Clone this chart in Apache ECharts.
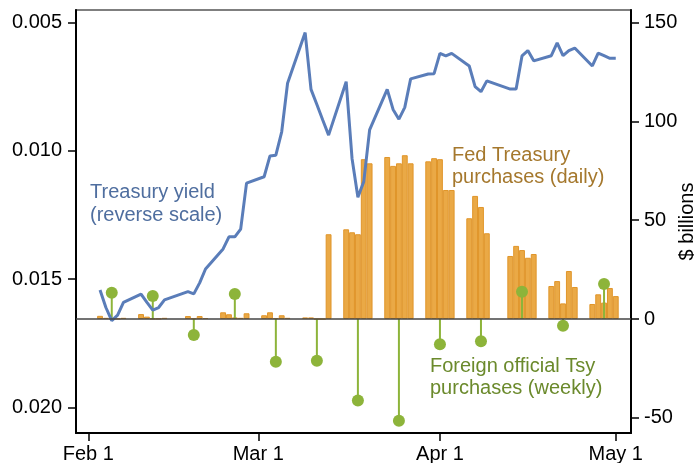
<!DOCTYPE html>
<html>
<head>
<meta charset="utf-8">
<script src="https://cdn.jsdelivr.net/npm/echarts@6/dist/echarts.min.js"></script>
<style>
html,body{margin:0;padding:0;background:#fff;}
#chart{width:694px;height:463px;}
</style>
</head>
<body>
<div id="chart"></div>
<script>
// ---- data ----
const tradingDays = [
  '2020-02-03','2020-02-04','2020-02-05','2020-02-06','2020-02-07',
  '2020-02-10','2020-02-11','2020-02-12','2020-02-13','2020-02-14',
  '2020-02-18','2020-02-19','2020-02-20','2020-02-21',
  '2020-02-24','2020-02-25','2020-02-26','2020-02-27','2020-02-28',
  '2020-03-02','2020-03-03','2020-03-04','2020-03-05','2020-03-06',
  '2020-03-09','2020-03-10','2020-03-11','2020-03-12','2020-03-13',
  '2020-03-16','2020-03-17','2020-03-18','2020-03-19','2020-03-20',
  '2020-03-23','2020-03-24','2020-03-25','2020-03-26','2020-03-27',
  '2020-03-30','2020-03-31','2020-04-01','2020-04-02','2020-04-03',
  '2020-04-06','2020-04-07','2020-04-08','2020-04-09',
  '2020-04-13','2020-04-14','2020-04-15','2020-04-16','2020-04-17',
  '2020-04-20','2020-04-21','2020-04-22','2020-04-23','2020-04-24',
  '2020-04-27','2020-04-28','2020-04-29','2020-04-30','2020-05-01'
];
const fedPurchases = [
  1.6, 0.6, 0.3, 0.2, 0.6,
  2.5, 1.2, 0.2, 0.2, 0.6,
  1.5, 0.3, 1.5, 0.5,
  3.4, 2.4, 0.8, 0.6, 2.9,
  1.9, 3.4, 0.5, 1.9, 0.6,
  0.8, 0.8, 0, 0, 42.9,
  45.4, 43.9, 42.9, 80.9, 78.8,
  82.0, 77.5, 78.8, 82.9, 78.8,
  79.8, 81.4, 80.9, 65.3, 65.3,
  51.0, 62.3, 56.7, 43.4,
  31.9, 37.0, 34.9, 31.0, 32.9,
  16.7, 19.2, 7.9, 24.3, 16.2,
  7.6, 12.5, 8.3, 15.7, 11.6
];
const treasuryYield = [
  0.01542, 0.0161, 0.01661, 0.0164, 0.0159,
  0.01558, 0.0159, 0.0162, 0.0161, 0.0158,
  0.01548, 0.01557, 0.01514, 0.0146,
  0.01382, 0.01335, 0.01335, 0.01305, 0.01126,
  0.01101, 0.0102, 0.01017, 0.00926, 0.00737,
  0.0054, 0.00761, 0.0082, 0.0088, 0.00939,
  0.00731, 0.0103, 0.01181, 0.0112, 0.00919,
  0.00761, 0.00839, 0.00877, 0.00831, 0.0072,
  0.00701, 0.0070, 0.00621, 0.00631, 0.00621,
  0.0067, 0.0075, 0.0077, 0.00728,
  0.0076, 0.0076, 0.00631, 0.0061, 0.0065,
  0.0063, 0.0058, 0.0063, 0.0061, 0.0060,
  0.0067, 0.0062, 0.0063, 0.0064, 0.0064
];
const weeklyDates = [
  '2020-02-05','2020-02-12','2020-02-19','2020-02-26',
  '2020-03-04','2020-03-11','2020-03-18','2020-03-25',
  '2020-04-01','2020-04-08','2020-04-15','2020-04-22','2020-04-29'
];
const foreignPurchases = [13.3, 11.6, -8.1, 12.7, -21.6, -21.1, -41.3, -51.5, -12.8, -11.3, 13.8, -3.4, 17.7];
const tickDates = ['2020-02-01','2020-03-01','2020-04-01','2020-05-01'];
const tickLabels = ['Feb 1','Mar 1','Apr 1','May 1'];
const yieldTicks = [0.005, 0.010, 0.015, 0.020];
const billionTicks = [-50, 0, 50, 100, 150];

// ---- helpers ----
const BASE = Date.UTC(2020, 1, 1);
function dayOffset(s) {
  const p = s.split('-').map(Number);
  return (Date.UTC(p[0], p[1] - 1, p[2]) - BASE) / 86400000;
}
const xTicks = tickDates.map(dayOffset);
const barData = tradingDays.map((d, i) => [dayOffset(d), fedPurchases[i]]);
const lineData = tradingDays.map((d, i) => [dayOffset(d), treasuryYield[i]]);
const stemData = weeklyDates.map((d, i) => [dayOffset(d), foreignPurchases[i]]);

const FONT = 'Liberation Sans, Arial, sans-serif';
const GREEN = '#8db43a';
const chart = echarts.init(document.getElementById('chart'), null, {renderer: 'canvas'});

const option = {
  backgroundColor: '#fff',
  animation: false,
  grid: {left: 76, right: 63, top: 10, bottom: 30, containLabel: false, outerBoundsMode: 'none',
    show: true, borderColor: '#555', borderWidth: 1.5, backgroundColor: '#fff'},
  xAxis: {
    type: 'value', min: -2.1, max: 92.6,
    splitLine: {show: false},
    axisLine: {onZero: false, lineStyle: {color: '#000', width: 2}},
    axisTick: {customValues: xTicks, length: 8, lineStyle: {color: '#000', width: 1.5}},
    axisLabel: {
      customValues: xTicks, margin: 11, fontSize: 20, fontFamily: FONT, color: '#000',
      formatter: v => tickLabels[xTicks.indexOf(Math.round(v))] || ''
    }
  },
  yAxis: [
    {
      type: 'value', inverse: true, min: 0.004521, max: 0.020984, position: 'left',
      splitLine: {show: false},
      axisLine: {show: true, onZero: false, lineStyle: {color: '#000', width: 2}},
      axisTick: {show: true, customValues: yieldTicks, length: 8, lineStyle: {color: '#000', width: 1.5}},
      axisLabel: {customValues: yieldTicks, margin: 14, fontSize: 20, fontFamily: FONT, color: '#000',
        formatter: v => v.toFixed(3)}
    },
    {
      type: 'value', min: -57.7, max: 156.4, position: 'right',
      name: '$ billions', nameLocation: 'middle', nameRotate: 90, nameGap: 46, nameMoveOverlap: false,
      nameTextStyle: {fontSize: 20, fontFamily: FONT, color: '#000'},
      splitLine: {show: false},
      axisLine: {show: true, onZero: false, lineStyle: {color: '#000', width: 2}},
      axisTick: {show: true, customValues: billionTicks, length: 8, lineStyle: {color: '#000', width: 1.5}},
      axisLabel: {customValues: billionTicks, margin: 13, fontSize: 20, fontFamily: FONT, color: '#000',
        formatter: v => String(Math.round(v))}
    }
  ],
  series: [
    {
      name: 'Fed Treasury purchases (daily)', type: 'bar', xAxisIndex: 0, yAxisIndex: 1,
      data: barData, barWidth: 5.86, z: 2,
      itemStyle: {color: '#eaa946', borderColor: '#e0952a', borderWidth: 1},
      markLine: {
        silent: true, symbol: ['none', 'none'], label: {show: false},
        lineStyle: {color: '#444', width: 1.5, type: 'solid'},
        data: [{yAxis: 0}]
      }
    },
    {
      name: 'Foreign official Tsy purchases (weekly)', type: 'custom', xAxisIndex: 0, yAxisIndex: 1,
      data: stemData, z: 3,
      renderItem: function (params, api) {
        const x = api.value(0), v = api.value(1);
        const p0 = api.coord([x, 0]);
        const p1 = api.coord([x, v]);
        return {
          type: 'group',
          children: [
            {type: 'line', shape: {x1: p0[0], y1: p0[1], x2: p1[0], y2: p1[1]}, style: {stroke: GREEN, lineWidth: 2}},
            {type: 'circle', shape: {cx: p1[0], cy: p1[1], r: 6}, style: {fill: GREEN}}
          ]
        };
      }
    },
    {
      name: 'Treasury yield', type: 'line', xAxisIndex: 0, yAxisIndex: 0,
      data: lineData, symbol: 'none', z: 4,
      lineStyle: {color: '#5a7db9', width: 3}
    }
  ],
  graphic: [
    {type: 'text', left: 90, top: 182, z: 10, style: {text: 'Treasury yield', font: '20px ' + FONT, fill: '#4f6e9f'}},
    {type: 'text', left: 90, top: 205, z: 10, style: {text: '(reverse scale)', font: '20px ' + FONT, fill: '#4f6e9f'}},
    {type: 'text', left: 452, top: 145, z: 10, style: {text: 'Fed Treasury', font: '20px ' + FONT, fill: '#a5782d'}},
    {type: 'text', left: 452, top: 167, z: 10, style: {text: 'purchases (daily)', font: '20px ' + FONT, fill: '#a5782d'}},
    {type: 'text', left: 430, top: 356, z: 10, style: {text: 'Foreign official Tsy', font: '20px ' + FONT, fill: '#6b8a2c'}},
    {type: 'text', left: 430, top: 378, z: 10, style: {text: 'purchases (weekly)', font: '20px ' + FONT, fill: '#6b8a2c'}}
  ]
};
chart.setOption(option);
</script>
</body>
</html>
